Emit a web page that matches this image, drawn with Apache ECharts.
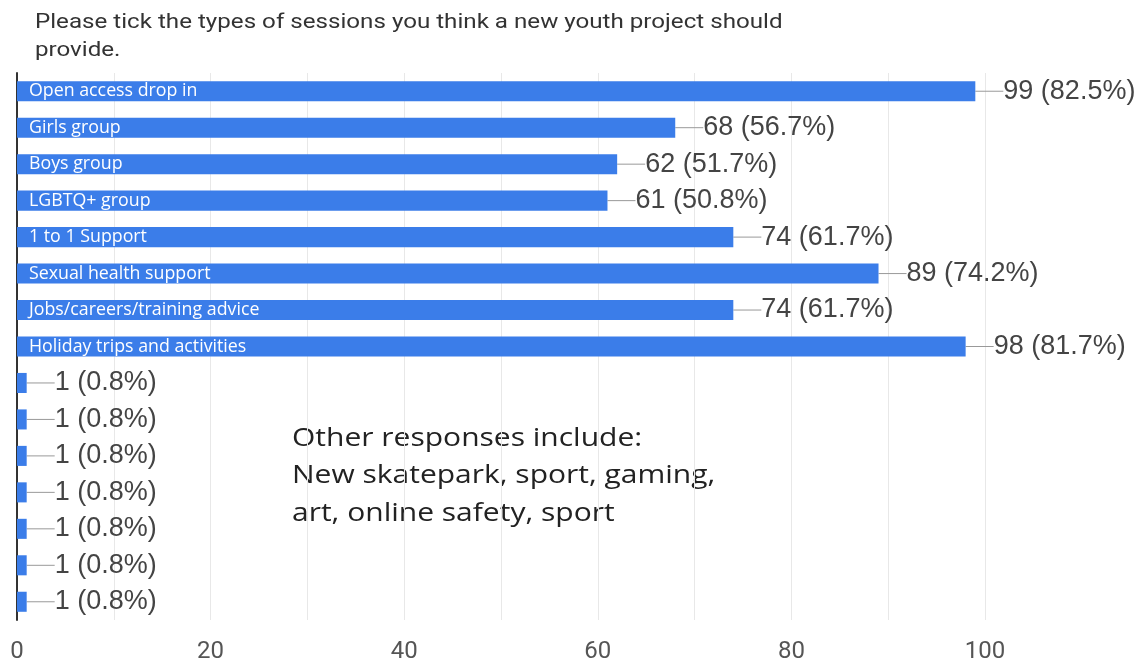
<!DOCTYPE html>
<html>
<head>
<meta charset="utf-8">
<script src="https://cdn.jsdelivr.net/npm/echarts@6/dist/echarts.min.js"></script>
<style>
html,body{margin:0;padding:0;background:#fff;}
#chart{width:1143px;height:666px;}
</style>
</head>
<body>
<div id="chart"></div>
<script>
const titleLines = ["Please tick the types of sessions you think a new youth project should", "provide."];
const categories = ["Open access drop in", "Girls group", "Boys group", "LGBTQ+ group", "1 to 1 Support", "Sexual health support", "Jobs/careers/training advice", "Holiday trips and activities", "Other 1", "Other 2", "Other 3", "Other 4", "Other 5", "Other 6", "Other 7"];
const barLabels = ["Open access drop in", "Girls group", "Boys group", "LGBTQ+ group", "1 to 1 Support", "Sexual health support", "Jobs/careers/training advice", "Holiday trips and activities", "", "", "", "", "", "", ""];
const counts = [99, 68, 62, 61, 74, 89, 74, 98, 1, 1, 1, 1, 1, 1, 1];
const percents = ["82.5", "56.7", "51.7", "50.8", "61.7", "74.2", "61.7", "81.7", "0.8", "0.8", "0.8", "0.8", "0.8", "0.8", "0.8"];
const xTicks = [0, 20, 40, 60, 80, 100];
const noteLines = ["Other responses include:", "New skatepark, sport, gaming,", "art, online safety, sport"];

const chart = echarts.init(document.getElementById('chart'), null, {renderer: 'canvas'});
const option = {
  animation: false,
  backgroundColor: '#ffffff',
  grid: {left: 17, right: 158, top: 73, bottom: 46, containLabel: false},
  xAxis: {
    type: 'value', min: 0, max: 100, interval: 10,
    axisLine: {show: false}, axisTick: {show: false},
    splitLine: {show: true, lineStyle: {color: '#e8e8e8', width: 1}},
    axisLabel: {
      color: '#555', fontSize: 24, fontFamily: 'Roboto', margin: 20,
      formatter: v => xTicks.indexOf(v) >= 0 ? String(v) : ''
    }
  },
  yAxis: {
    type: 'category', data: categories, inverse: true,
    axisLine: {show: true, lineStyle: {color: '#333', width: 2}},
    axisTick: {show: false}, axisLabel: {show: false}, splitLine: {show: false}
  },
  series: [
    {
      type: 'bar', data: counts, barWidth: '55%',
      itemStyle: {color: '#3b7de9'},
      label: {
        show: true, position: 'right', distance: 0,
        formatter: p => counts[p.dataIndex] + ' (' + percents[p.dataIndex] + '%)',
        color: '#444', fontSize: 27, fontFamily: '"Liberation Sans"'
      },
      labelLayout: {dx: 28},
      labelLine: {show: true, lineStyle: {color: '#999', width: 1}}
    },
    {
      type: 'bar', data: counts, barWidth: '55%', barGap: '-100%',
      itemStyle: {color: 'rgba(0,0,0,0)'},
      label: {
        show: true, position: 'insideLeft', distance: 12,
        formatter: p => barLabels[p.dataIndex],
        color: '#ffffff', fontSize: 17.8, fontFamily: 'Open Sans'
      },
      silent: true
    }
  ],
  graphic: [
    {type: 'text', x: 35, y: 9, scaleX: 1.15, style: {text: titleLines.join('\n'), font: '21px Roboto', fill: '#333', lineHeight: 28}},
    {type: 'text', x: 292, y: 420, scaleX: 1.2, style: {text: noteLines.join('\n'), font: '25px "Open Sans"', fill: '#222', lineHeight: 37.5}}
  ]
};
chart.setOption(option);
</script>
</body>
</html>
